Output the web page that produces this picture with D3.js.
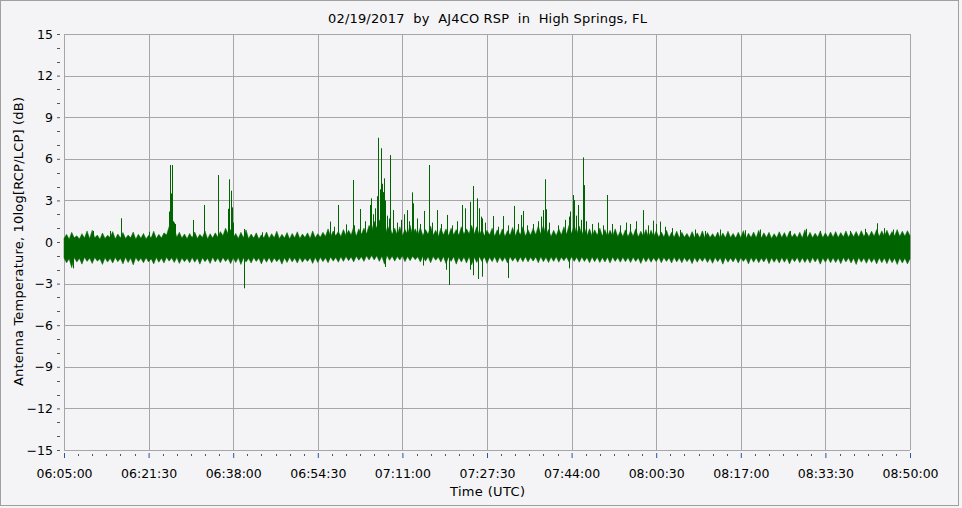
<!DOCTYPE html>
<html>
<head>
<meta charset="utf-8">
<script src="https://cdn.jsdelivr.net/npm/d3@7"></script>
<style>
  html, body { margin: 0; padding: 0; background: #f4f4f6; }
  svg { display: block; }
  text { font-family: "DejaVu Sans", Verdana, sans-serif; fill: #000; }
</style>
</head>
<body>
<svg id="chart" width="962" height="508"></svg>
<script>
// ---------- DATA ----------
const title = "02/19/2017  by  AJ4CO RSP  in  High Springs, FL";
const xTitle = "Time (UTC)";
const yTitle = "Antenna Temperature, 10log[RCP/LCP] (dB)";

// x positions in minutes after 06:05:00
const xTickMinutes = [0, 16.5, 33, 49.5, 66, 82.5, 99, 115.5, 132, 148.5, 165];
const xTickLabels = ["06:05:00", "06:21:30", "06:38:00", "06:54:30", "07:11:00", "07:27:30",
                     "07:44:00", "08:00:30", "08:17:00", "08:33:30", "08:50:00"];
const yTickValues = [-15, -12, -9, -6, -3, 0, 3, 6, 9, 12, 15];

// noise band envelope, one sample every half minute (0 .. 165 min)
const bandStep = 0.5;
const bandTop = [
  0.25,0.55,0.20,0.70,0.30,0.45,0.22,0.60,0.28,0.80,
  0.24,0.85,0.30,0.50,0.20,0.65,0.26,0.48,0.32,0.75,
  0.22,0.58,0.28,0.68,0.25,0.50,0.30,0.72,0.20,0.55,
  0.27,0.62,0.22,0.48,0.30,0.78,0.25,0.55,0.28,0.66,
  0.50,1.10,0.90,1.00,0.35,0.70,0.28,0.58,0.24,0.62,
  0.30,0.72,0.26,0.55,0.32,0.80,0.22,0.60,0.28,0.66,
  0.35,0.75,0.45,1.00,0.60,0.90,0.30,0.62,0.26,0.70,
  0.30,0.88,0.24,0.58,0.28,0.66,0.22,0.52,0.30,0.72,
  0.26,0.60,0.30,0.78,0.24,0.55,0.28,0.68,0.22,0.62,
  0.30,0.74,0.25,0.58,0.32,0.66,0.26,0.80,0.30,0.60,
  0.35,0.70,0.40,0.95,0.38,0.80,0.45,0.75,0.40,0.90,
  0.45,0.85,0.50,1.10,0.42,0.95,0.55,1.00,0.60,1.20,
  0.80,1.50,1.00,1.60,0.90,1.40,0.70,1.20,0.55,1.00,
  0.50,1.10,0.45,0.90,0.55,1.20,0.48,0.95,0.50,1.05,
  0.45,0.90,0.55,1.15,0.48,0.85,0.40,1.00,0.50,0.95,
  0.45,1.00,0.52,0.90,0.48,1.10,0.55,0.95,0.60,1.20,
  0.55,1.10,0.48,0.92,0.45,0.85,0.50,1.00,0.42,0.88,
  0.45,0.95,0.40,0.82,0.48,1.05,0.44,0.90,0.50,1.10,
  0.42,0.88,0.48,1.00,0.52,1.15,0.55,1.20,0.45,0.90,
  0.40,0.85,0.45,0.95,0.50,1.10,0.55,1.20,0.60,1.25,
  0.55,1.15,0.50,1.05,0.45,0.95,0.42,0.88,0.48,1.00,
  0.44,0.90,0.40,0.85,0.42,0.95,0.38,0.80,0.40,0.88,
  0.38,0.82,0.42,0.95,0.36,0.78,0.40,0.90,0.35,0.85,
  0.38,0.80,0.34,0.72,0.36,0.85,0.32,0.70,0.35,0.78,
  0.30,0.70,0.34,0.62,0.28,0.75,0.32,0.66,0.30,0.80,
  0.28,0.68,0.32,0.60,0.30,0.72,0.26,0.65,0.30,0.78,
  0.32,0.62,0.28,0.70,0.30,0.82,0.26,0.64,0.32,0.72,
  0.30,0.85,0.28,0.66,0.32,0.70,0.26,0.60,0.30,0.74,
  0.32,0.68,0.28,0.76,0.34,0.62,0.30,0.70,0.28,0.88,
  0.32,0.70,0.30,0.64,0.34,0.78,0.30,0.66,0.32,0.72,
  0.35,0.75,0.32,0.68,0.36,0.80,0.34,0.70,0.38,0.76,
  0.36,0.82,0.40,0.72,0.38,0.78,0.42,0.90,0.40,0.80,
  0.42,0.85,0.40,0.76,0.44,0.90,0.40,0.78,0.42,0.82,
  0.45
];
const bandBottom = [
  -1.15,-1.50,-1.20,-1.85,-1.12,-1.45,-1.18,-1.60,-1.10,-1.40,
  -1.16,-1.55,-1.12,-1.38,-1.20,-1.62,-1.14,-1.45,-1.18,-1.52,
  -1.12,-1.42,-1.18,-1.58,-1.10,-1.48,-1.16,-1.65,-1.12,-1.40,
  -1.18,-1.50,-1.14,-1.44,-1.20,-1.58,-1.12,-1.46,-1.16,-1.52,
  -1.10,-1.38,-1.14,-1.48,-1.12,-1.55,-1.16,-1.42,-1.18,-1.50,
  -1.12,-1.46,-1.16,-1.60,-1.14,-1.42,-1.18,-1.55,-1.10,-1.44,
  -1.16,-1.50,-1.12,-1.40,-1.18,-1.56,-1.14,-1.48,-1.12,-1.62,
  -1.14,-1.45,-1.18,-1.52,-1.12,-1.40,-1.16,-1.58,-1.14,-1.46,
  -1.12,-1.50,-1.16,-1.42,-1.18,-1.60,-1.14,-1.48,-1.10,-1.44,
  -1.16,-1.52,-1.12,-1.46,-1.18,-1.40,-1.14,-1.55,-1.12,-1.48,
  -1.10,-1.42,-1.14,-1.50,-1.08,-1.38,-1.12,-1.46,-1.06,-1.40,
  -1.05,-1.35,-1.08,-1.44,-1.02,-1.32,-1.06,-1.40,-1.00,-1.30,
  -0.98,-1.30,-1.00,-1.40,-1.02,-1.60,-0.98,-1.32,-1.02,-1.38,
  -1.04,-1.30,-1.00,-1.42,-1.05,-1.35,-1.02,-1.28,-1.06,-1.45,
  -1.02,-1.38,-1.06,-1.50,-1.04,-1.32,-1.08,-1.45,-1.05,-1.55,
  -1.08,-1.40,-1.06,-1.60,-1.10,-1.45,-1.08,-1.52,-1.06,-1.65,
  -1.10,-1.48,-1.06,-1.40,-1.08,-1.55,-1.10,-1.42,-1.06,-1.50,
  -1.08,-1.40,-1.10,-1.52,-1.06,-1.38,-1.10,-1.46,-1.08,-1.42,
  -1.06,-1.44,-1.10,-1.38,-1.08,-1.50,-1.06,-1.42,-1.10,-1.48,
  -1.08,-1.40,-1.06,-1.46,-1.10,-1.36,-1.08,-1.44,-1.06,-1.40,
  -1.10,-1.46,-1.08,-1.40,-1.12,-1.50,-1.08,-1.42,-1.10,-1.48,
  -1.12,-1.44,-1.10,-1.52,-1.08,-1.40,-1.12,-1.46,-1.10,-1.42,
  -1.12,-1.48,-1.10,-1.40,-1.14,-1.55,-1.10,-1.44,-1.12,-1.46,
  -1.14,-1.42,-1.10,-1.50,-1.12,-1.40,-1.14,-1.52,-1.10,-1.44,
  -1.14,-1.50,-1.12,-1.42,-1.16,-1.56,-1.12,-1.46,-1.14,-1.40,
  -1.12,-1.48,-1.16,-1.54,-1.12,-1.42,-1.14,-1.60,-1.12,-1.46,
  -1.16,-1.44,-1.12,-1.52,-1.14,-1.40,-1.16,-1.58,-1.12,-1.46,
  -1.14,-1.50,-1.16,-1.44,-1.12,-1.56,-1.14,-1.46,-1.16,-1.52,
  -1.12,-1.46,-1.14,-1.58,-1.16,-1.42,-1.12,-1.50,-1.14,-1.48,
  -1.16,-1.52,-1.12,-1.44,-1.14,-1.60,-1.16,-1.46,-1.12,-1.50,
  -1.14,-1.48,-1.16,-1.56,-1.12,-1.44,-1.14,-1.52,-1.16,-1.62,
  -1.12,-1.46,-1.16,-1.54,-1.14,-1.48,-1.18,-1.58,-1.14,-1.50,
  -1.16,-1.56,-1.14,-1.50,-1.18,-1.62,-1.16,-1.52,-1.18,-1.58,
  -1.20
];

// bursts above/below the noise band: [minutes after 06:05:00, dB]
const spikeTimes = [
  5.6, 9.0, 11.2, 16.5, 20.5, 20.7, 20.9, 21.1, 21.3, 21.5, 21.6, 25.2, 27.4, 30.1,
  31.9, 32.1, 32.2, 32.5, 32.7, 32.9, 35.2, 38.6,
  51.9, 52.7, 53.4, 55.0, 56.3, 56.6, 57.7, 58.7, 59.6, 59.9, 60.3, 60.7, 60.95, 61.3,
  61.55, 61.8, 62.1, 62.3, 62.5, 62.7, 63.0, 63.45, 63.65, 64.2, 64.95, 65.7, 66.4, 66.8,
  67.3, 67.8, 68.1, 68.8, 69.4, 70.2, 71.1, 71.8, 72.8, 73.5, 74.7, 75.7, 76.7, 77.7,
  78.3, 79.1, 79.8, 80.5, 80.9, 81.3, 81.5, 82.1, 83.7, 84.6, 85.7, 86.6, 87.8, 88.5,
  89.1, 89.5, 90.3, 91.5, 92.5, 93.0, 93.5, 93.9, 94.1, 94.6, 96.4, 97.7, 98.4, 98.7,
  99.2, 99.5, 99.9, 100.3, 100.8, 101.3, 101.5, 101.8, 103.0, 104.2, 105.1, 105.9,
  106.9, 108.4, 109.6, 110.4, 111.6, 113.0, 113.9, 114.9, 115.5, 116.2, 117.2, 118.6,
  120.1, 123.1, 125.0, 128.0, 132.8, 135.8, 141.6, 144.7, 147.5, 153.3, 156.2, 158.5,
  159.9, 161.7,
  1.8, 35.2, 62.6, 70.0, 74.6, 75.0, 79.2, 79.8, 80.7, 81.6, 86.6, 98.4
];
const spikeValues = [
  0.8, 0.8, 1.71, 0.74, 2.2, 5.55, 3.5, 5.55, 1.5, 1.4, 1.3, 1.59, 2.67, 4.83,
  2.4, 3.3, 4.52, 3.7, 2.5, 1.4, 0.94, 0.7,
  1.47, 1.1, 2.67, 1.27, 4.47, 1.2, 2.38, 1.5, 2.67, 3.15, 2.0, 2.43, 3.3, 7.52,
  3.8, 6.76, 4.2, 3.6, 4.59, 3.0, 1.9, 1.7, 6.27, 2.3, 1.4, 1.6, 2.0, 2.3,
  1.5, 3.58, 2.79, 1.7, 1.3, 2.24, 5.55, 1.4, 2.3, 1.3, 1.95, 1.2, 1.5, 2.67,
  2.43, 2.9, 4.04, 3.15, 2.43, 1.83, 1.7, 1.4, 1.87, 1.1, 1.87, 1.2, 2.6, 1.3,
  1.95, 2.24, 1.2, 1.3, 1.5, 1.83, 2.3, 4.52, 2.36, 1.4, 1.2, 1.6, 1.83, 2.2,
  3.39, 3.03, 1.9, 2.67, 1.6, 6.1, 4.1, 1.5, 1.3, 1.4, 1.2, 3.39,
  1.3, 1.2, 1.4, 1.3, 1.5, 2.3, 1.2, 1.54, 1.3, 1.47, 1.1, 1.0,
  0.87, 0.9, 0.8, 0.9, 0.85, 0.9, 0.8, 0.95, 0.8, 0.8, 0.95, 1.35,
  1.0, 0.9,
  -1.9, -3.34, -1.8, -1.7, -2.0, -3.1, -2.0, -2.4, -2.67, -2.5, -2.6, -1.9
];

// ---------- LAYOUT ----------
const W = 962, H = 508;
const m = { left: 64, right: 910, top: 34, bottom: 450 };
const bg = "#f4f4f6", gridColor = "#a6a6a6", lineColor = "#006400";

const svg = d3.select("#chart");
svg.append("rect").attr("x", 0).attr("y", 0).attr("width", W).attr("height", H).attr("fill", bg);
svg.append("rect").attr("x", 0.5).attr("y", 0.5).attr("width", W - 4).attr("height", H - 3)
  .attr("fill", "none").attr("stroke", "#a0a0a0");

const x = d3.scaleLinear().domain([0, 165]).range([m.left, m.right]);
const y = d3.scaleLinear().domain([-15, 15]).range([m.bottom, m.top]);

// grid
const grid = svg.append("g");
grid.selectAll("line.v").data(xTickMinutes).join("line")
  .attr("x1", d => Math.round(x(d)) + 0.5).attr("x2", d => Math.round(x(d)) + 0.5)
  .attr("y1", m.top).attr("y2", m.bottom).attr("stroke", gridColor);
grid.selectAll("line.h").data(yTickValues).join("line")
  .attr("y1", d => Math.round(y(d)) + 0.5).attr("y2", d => Math.round(y(d)) + 0.5)
  .attr("x1", m.left).attr("x2", m.right).attr("stroke", gridColor);

// series
const plot = svg.append("g");
const idx = d3.range(bandTop.length);
const area = d3.area()
  .x(i => x(i * bandStep))
  .y0(i => y(bandBottom[i]))
  .y1(i => y(bandTop[i]));
plot.append("path").datum(idx).attr("d", area)
  .attr("fill", lineColor).attr("stroke", lineColor).attr("stroke-width", 0.5);

const baseVal = -0.4;
plot.selectAll("line.spike").data(d3.range(spikeTimes.length)).join("line")
  .attr("x1", i => Math.round(x(spikeTimes[i])) + 0.5)
  .attr("x2", i => Math.round(x(spikeTimes[i])) + 0.5)
  .attr("y1", y(baseVal))
  .attr("y2", i => y(spikeValues[i]))
  .attr("stroke", lineColor).attr("stroke-width", 1);

// y axis
const yAxis = d3.axisLeft(y).tickValues(yTickValues).tickSize(3).tickPadding(4)
  .tickFormat(d3.format("d"));
const yg = svg.append("g").attr("transform", `translate(${m.left - 4},0)`).call(yAxis);
yg.select(".domain").remove();
yg.selectAll("line").attr("stroke", "#555");
yg.selectAll("text").style("font-size", "12.5px").attr("fill", "#000");
const yMinor = d3.range(-15, 15.01, 1).filter(v => v % 3 !== 0);
svg.append("g").selectAll("line").data(yMinor).join("line")
  .attr("x1", m.left - 7).attr("x2", m.left - 4)
  .attr("y1", d => Math.round(y(d)) + 0.5).attr("y2", d => Math.round(y(d)) + 0.5)
  .attr("stroke", "#555");

// x axis
const xAxis = d3.axisBottom(x).tickValues(xTickMinutes).tickSize(5).tickPadding(11)
  .tickFormat((d, i) => xTickLabels[i]);
const xg = svg.append("g").attr("transform", `translate(0,${m.bottom + 3})`).call(xAxis);
xg.select(".domain").remove();
xg.selectAll("line").attr("stroke", "#3050a0");
xg.selectAll("text").style("font-size", "12.5px").attr("fill", "#000");
const xMinor = d3.range(0, 165.01, 2.75).filter(v => Math.abs(v / 16.5 - Math.round(v / 16.5)) > 1e-6);
svg.append("g").selectAll("line").data(xMinor).join("line")
  .attr("x1", d => Math.round(x(d)) + 0.5).attr("x2", d => Math.round(x(d)) + 0.5)
  .attr("y1", m.bottom + 4).attr("y2", m.bottom + 6)
  .attr("stroke", "#555");

// titles
svg.append("text").attr("x", 487.5).attr("y", 23).attr("text-anchor", "middle")
  .style("font-size", "13px").style("white-space", "pre")
  .attr("textLength", 319).attr("lengthAdjust", "spacing").text(title);
svg.append("text").attr("x", 487.5).attr("y", 496).attr("text-anchor", "middle")
  .style("font-size", "13px").attr("textLength", 75).attr("lengthAdjust", "spacing").text(xTitle);
svg.append("text").attr("transform", "translate(23,241.5) rotate(-90)").attr("text-anchor", "middle")
  .style("font-size", "13px").attr("textLength", 289).attr("lengthAdjust", "spacing").text(yTitle);
</script>
</body>
</html>
